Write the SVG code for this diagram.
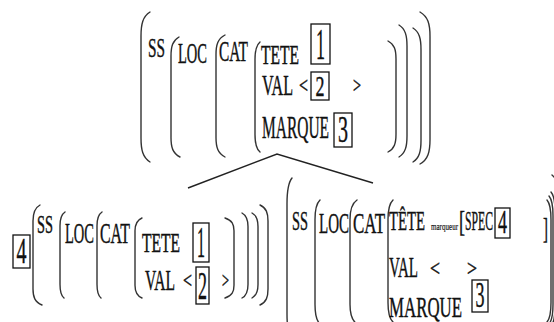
<svg xmlns="http://www.w3.org/2000/svg" width="554" height="322" viewBox="0 0 554 322">
<style>
.t{font-family:"Liberation Serif","Times New Roman",serif;fill:#111;stroke:#111;stroke-width:0.45;}
.p{fill:none;stroke:#333;stroke-width:1.4;stroke-linecap:round;}
.b{fill:none;stroke:#111;stroke-width:1.3;}
.d{text-anchor:middle;}
.c{fill:none;stroke:#222;stroke-width:1.4;}
</style>
<rect width="554" height="322" fill="#fff"/>
<g id="connectors">
<polyline class="c" points="188,188 277,154 373,183"/>
</g>
<g id="top-avm">
<path class="p" d="M150,12 C142.8,16.5 141,24 141,36 L141,138 C141,150 142.8,157.5 150,162"/>
<path class="p" d="M179,37 C172.6,40.6 171,46.6 171,56.2 L171,137.8 C171,147.4 172.8,153.4 180,157"/>
<path class="p" d="M225,35 C217.8,38.7 216,44.8 216,54.5 L216,137.5 C216,147.2 217.8,153.3 225,157"/>
<path class="p" d="M260,42 C256,45.3 255,50.8 255,59.6 L255,134.4 C255,143.2 256,148.7 260,152"/>
<path class="p" d="M388,41 C394.4,44.3 396,49.9 396,58.8 L396,134.2 C396,143.1 394.4,148.7 388,152"/>
<path class="p" d="M399,25 C405.4,29 407,35.6 407,46.1 L407,135.9 C407,146.4 405.4,153 399,157"/>
<path class="p" d="M413,28 C419.4,32 421,38.7 421,49.4 L421,140.6 C421,151.3 419.4,158 413,162"/>
<path class="p" d="M420,12 C428,16.6 430,24.2 430,36.3 L430,139.7 C430,151.8 428,159.4 420,164"/>
<text class="t" x="148" y="57" font-size="28" textLength="17" lengthAdjust="spacingAndGlyphs">SS</text>
<text class="t" x="178" y="63" font-size="30" textLength="29" lengthAdjust="spacingAndGlyphs">LOC</text>
<text class="t" x="219" y="61" font-size="30" textLength="29" lengthAdjust="spacingAndGlyphs">CAT</text>
<text class="t" x="261" y="64" font-size="27" textLength="38" lengthAdjust="spacingAndGlyphs">TETE</text>
<text class="t" x="262" y="95" font-size="30" textLength="31" lengthAdjust="spacingAndGlyphs">VAL</text>
<text class="t" x="299" y="93" font-size="24" textLength="9" lengthAdjust="spacingAndGlyphs">&lt;</text>
<text class="t" x="353" y="93" font-size="24" textLength="8" lengthAdjust="spacingAndGlyphs">&gt;</text>
<text class="t" x="262" y="138" font-size="31" textLength="67" lengthAdjust="spacingAndGlyphs">MARQUE</text>
<rect class="b" x="311" y="24" width="19" height="40"/>
<text class="t d" x="320.5" y="59" font-size="44" textLength="9" lengthAdjust="spacingAndGlyphs">1</text>
<rect class="b" x="311" y="72" width="18" height="28"/>
<text class="t d" x="320" y="96" font-size="30" textLength="9" lengthAdjust="spacingAndGlyphs">2</text>
<rect class="b" x="334" y="113" width="18" height="34"/>
<text class="t d" x="343" y="142" font-size="37" textLength="10" lengthAdjust="spacingAndGlyphs">3</text>
</g>
<g id="left-avm">
<rect class="b" x="13" y="235" width="17" height="33"/>
<text class="t d" x="21.5" y="263" font-size="36" textLength="10" lengthAdjust="spacingAndGlyphs">4</text>
<path class="p" d="M40,205 C34.4,208 33,213 33,221 L33,289 C33,297 34.8,302 42,305"/>
<path class="p" d="M65,212 C61,214.6 60,218.9 60,225.8 L60,284.2 C60,291.1 60.8,295.4 64,298"/>
<path class="p" d="M102,212 C98,214.6 97,218.9 97,225.8 L97,284.2 C97,291.1 97.8,295.4 101,298"/>
<path class="p" d="M142,218 C136.4,220.4 135,224.4 135,230.8 L135,285.2 C135,291.6 136.4,295.6 142,298"/>
<path class="p" d="M225,218 C232.2,220.4 234,224.4 234,230.8 L234,285.2 C234,291.6 232.2,295.6 225,298"/>
<path class="p" d="M242,213 C246.8,215.6 248,219.8 248,226.6 L248,284.4 C248,291.2 246.8,295.4 242,298"/>
<path class="p" d="M252,213 C256.8,215.6 258,219.8 258,226.6 L258,284.4 C258,291.2 256.8,295.4 252,298"/>
<path class="p" d="M260,205 C266.4,208 268,213 268,221 L268,289 C268,297 266.4,302 260,305"/>
<text class="t" x="37" y="233" font-size="26" textLength="16" lengthAdjust="spacingAndGlyphs">SS</text>
<text class="t" x="65" y="243" font-size="30" textLength="29" lengthAdjust="spacingAndGlyphs">LOC</text>
<text class="t" x="100" y="243" font-size="30" textLength="30" lengthAdjust="spacingAndGlyphs">CAT</text>
<text class="t" x="142" y="252" font-size="28" textLength="38" lengthAdjust="spacingAndGlyphs">TETE</text>
<text class="t" x="145" y="290" font-size="30" textLength="30" lengthAdjust="spacingAndGlyphs">VAL</text>
<text class="t" x="183" y="288" font-size="24" textLength="9" lengthAdjust="spacingAndGlyphs">&lt;</text>
<text class="t" x="222" y="288" font-size="24" textLength="7" lengthAdjust="spacingAndGlyphs">&gt;</text>
<rect class="b" x="193" y="223" width="16" height="39"/>
<text class="t d" x="201" y="257" font-size="44" textLength="8" lengthAdjust="spacingAndGlyphs">1</text>
<rect class="b" x="196" y="267" width="13" height="37"/>
<text class="t d" x="202.5" y="299" font-size="40" textLength="9" lengthAdjust="spacingAndGlyphs">2</text>
</g>
<g id="right-avm">
<path class="p" d="M292,178 C288,182.9 287,191 287,204 L287,314 C287,327 288,335 292,340"/>
<path class="p" d="M320,200 C316,203.7 315,209.9 315,219.8 L315,304.2 C315,314.1 316,320.3 320,324"/>
<path class="p" d="M357,200 C351.4,203.7 350,209.9 350,219.8 L350,304.2 C350,314.1 351.4,320.3 357,324"/>
<path class="p" d="M393,200 C389,203.7 388,209.8 388,219.5 L388,302.5 C388,312.2 389,318.3 393,322"/>
<path class="p" d="M547,200 C550.2,203.7 551,209.8 551,219.5 L551,302.5 C551,312.2 550.2,318.3 547,322"/>
<path class="p" d="M549,196 C552.2,199.7 553,205.8 553,215.5 L553,304.5 C553,314.2 552.2,320.3 549,324"/>
<path class="p" d="M551,192 C554.2,195.7 555,201.8 555,211.5 L555,306.5 C555,316.2 554.2,322.3 551,326"/>
<path class="p" d="M552,175 C558,180 560,188 560,200 L560,320"/>
<text class="t" x="292" y="230" font-size="28" textLength="16" lengthAdjust="spacingAndGlyphs">SS</text>
<text class="t" x="319" y="233" font-size="30" textLength="30" lengthAdjust="spacingAndGlyphs">LOC</text>
<text class="t" x="353" y="233" font-size="30" textLength="32" lengthAdjust="spacingAndGlyphs">CAT</text>
<text class="t" x="389" y="230" font-size="28" textLength="36" lengthAdjust="spacingAndGlyphs">TÊTE</text>
<text class="t" x="431" y="230" font-size="11" textLength="27" lengthAdjust="spacingAndGlyphs" style="stroke-width:0.2">marqueur</text>
<text class="t" x="459" y="231" font-size="30" textLength="6" lengthAdjust="spacingAndGlyphs">[</text>
<text class="t" x="465" y="230" font-size="28" textLength="28" lengthAdjust="spacingAndGlyphs">SPEC</text>
<rect class="b" x="495" y="208" width="15" height="30"/>
<text class="t d" x="502.5" y="233" font-size="34" textLength="9" lengthAdjust="spacingAndGlyphs">4</text>
<text class="t" x="543" y="238" font-size="30" textLength="5" lengthAdjust="spacingAndGlyphs">]</text>
<text class="t" x="389" y="277" font-size="30" textLength="29" lengthAdjust="spacingAndGlyphs">VAL</text>
<text class="t" x="430" y="276" font-size="24" textLength="10" lengthAdjust="spacingAndGlyphs">&lt;</text>
<text class="t" x="467" y="276" font-size="24" textLength="10" lengthAdjust="spacingAndGlyphs">&gt;</text>
<text class="t" x="389" y="317" font-size="30" textLength="73" lengthAdjust="spacingAndGlyphs">MARQUE</text>
<rect class="b" x="472" y="280" width="16" height="32"/>
<text class="t d" x="480" y="307" font-size="36" textLength="9" lengthAdjust="spacingAndGlyphs">3</text>
</g>
</svg>
